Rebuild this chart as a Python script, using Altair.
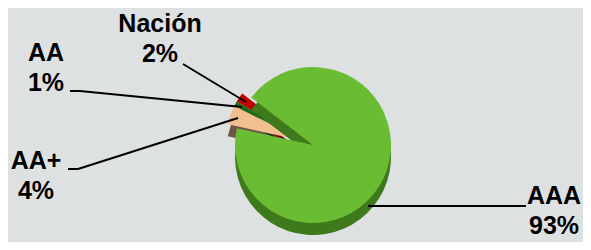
import math
import altair as alt
import pandas as pd

# ---- data ----
categories = ["AAA", "AA+", "AA", "Nación"]
shares = [93, 4, 1, 2]
top_colors = ["#6abd32", "#f2c08f", "#1b6e1b", "#c00000"]
side_colors = ["#3e7a1b", "#6e5444", "#0c3f0c", "#760000"]

# ---- layout (pixel positions inside the chart) ----
label_x = [546, 28, 38, 152]
label_y = [196, 161, 53, 24]
leader_x = [518, 60, 70, 62, 72, 175]
leader_y = [198, 161, 161, 83, 83, 56]
leader_x2 = [360, 70, 230, 72, 234, 238]
leader_y2 = [198, 161, 110, 83, 99, 94]

PIE_CX, PIE_CY = 305, 137
EXPLODE_DX, EXPLODE_DY = -9, -4
RIM = 12
R = 78
START_DEG = 307.6

df = pd.DataFrame({
    "category": categories,
    "share": shares,
    "order": list(range(len(categories))),
    "top": top_colors,
    "side": side_colors,
    "lx": label_x,
    "ly": label_y,
})
df["label"] = df["category"] + "\n" + df["share"].astype(str) + "%"

seg = pd.DataFrame({"x": leader_x, "y": leader_y, "x2": leader_x2, "y2": leader_y2})

start = math.radians(START_DEG)
theta_scale = alt.Scale(domain=[0, 100], range=[start, start + 2 * math.pi])

base = alt.Chart(df).transform_window(
    cum="sum(share)", sort=[alt.SortField("order", order="ascending")]
).transform_calculate(s0="datum.cum - datum.share")


def arcs(filter_expr, cx, cy, color_field):
    return base.transform_filter(filter_expr).mark_arc(radius=R).encode(
        theta=alt.Theta("s0:Q", scale=theta_scale, stack=False),
        theta2="cum:Q",
        color=alt.Color(f"{color_field}:N", scale=None, legend=None),
        x=alt.value(cx),
        y=alt.value(cy),
    )


small_rim = arcs("datum.order > 0", PIE_CX + EXPLODE_DX, PIE_CY + EXPLODE_DY + RIM, "side")
small_top = arcs("datum.order > 0", PIE_CX + EXPLODE_DX, PIE_CY + EXPLODE_DY, "top")
main_rim = arcs("datum.order == 0", PIE_CX, PIE_CY + RIM, "side")
main_top = arcs("datum.order == 0", PIE_CX, PIE_CY, "top")

rules = alt.Chart(seg).mark_rule(color="black", strokeWidth=2).encode(
    x=alt.X("x:Q", scale=None, axis=None),
    y=alt.Y("y:Q", scale=None, axis=None),
    x2="x2:Q",
    y2="y2:Q",
)

labels = alt.Chart(df).mark_text(
    font="Liberation Sans", fontWeight="bold", fontSize=25,
    lineBreak="\n", lineHeight=30, align="center", baseline="alphabetic",
    color="black",
).encode(
    x=alt.X("lx:Q", scale=None, axis=None),
    y=alt.Y("ly:Q", scale=None, axis=None),
    text="label:N",
)

chart = alt.layer(small_rim, small_top, main_rim, main_top, rules, labels).properties(
    width=575,
    height=234,
    autosize=alt.AutoSizeParams(type="none"),
    padding=0,
    background="#dde1e2",
).configure_view(stroke=None)

chart.save("out.html", embed_options={"renderer": "svg", "actions": False})
